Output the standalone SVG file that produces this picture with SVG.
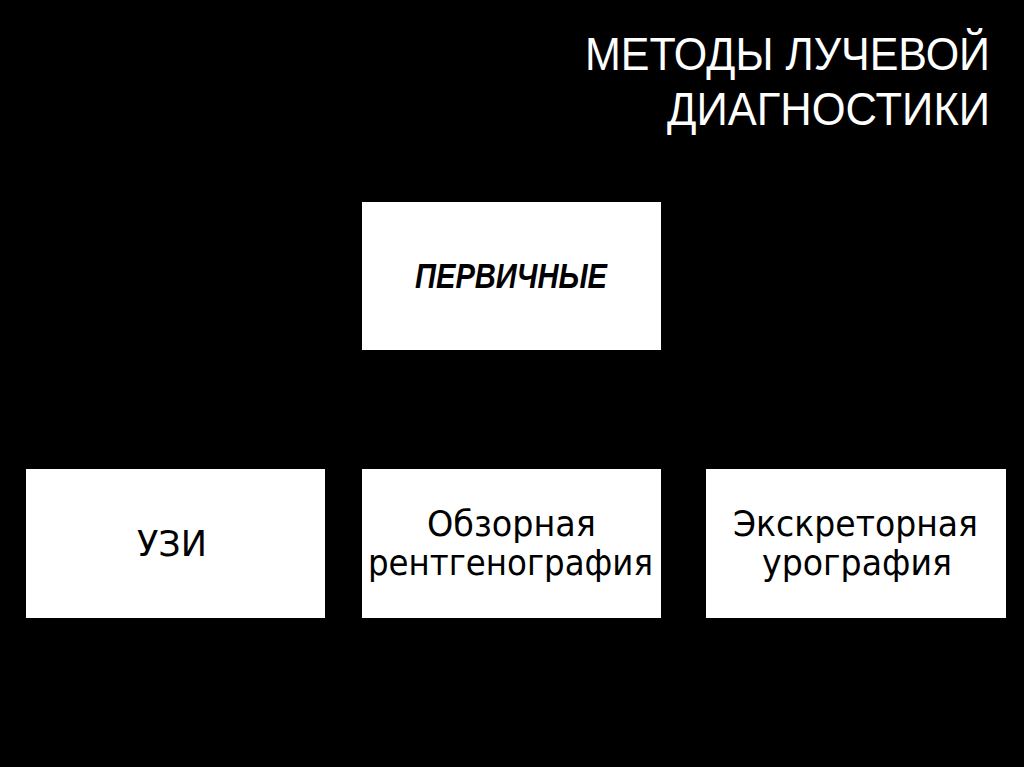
<svg xmlns="http://www.w3.org/2000/svg" width="1024" height="767" viewBox="0 0 1024 767">
<style>
.box{fill:#ffffff;stroke:none}
.title{font-family:"Liberation Sans","Open Sans",sans-serif;font-size:46px;fill:#ffffff}
.lbl{font-family:"DejaVu Sans","Liberation Sans",sans-serif;font-size:35px;fill:#000000;text-anchor:middle}
.bold{font-family:"Liberation Sans","Open Sans",sans-serif;font-size:35px;font-weight:bold;font-style:italic;fill:#000000;text-anchor:middle}
</style>
<rect x="0" y="0" width="1024" height="767" fill="#000000"/>
<g id="title">
<text class="title" x="585" y="70" textLength="405" lengthAdjust="spacingAndGlyphs">МЕТОДЫ ЛУЧЕВОЙ</text>
<text class="title" x="667" y="125" textLength="323" lengthAdjust="spacingAndGlyphs">ДИАГНОСТИКИ</text>
</g>
<g id="connectors"></g>
<g id="node-primary">
<rect class="box" x="362" y="202" width="299" height="148"/>
<text class="bold" x="511" y="288" textLength="192" lengthAdjust="spacingAndGlyphs">ПЕРВИЧНЫЕ</text>
</g>
<g id="node-uzi">
<rect class="box" x="26" y="469" width="299" height="149"/>
<text class="lbl" x="172" y="556" textLength="70" lengthAdjust="spacingAndGlyphs">УЗИ</text>
</g>
<g id="node-xray">
<rect class="box" x="362" y="469" width="299" height="149"/>
<text class="lbl" x="511.5" y="536" textLength="169" lengthAdjust="spacingAndGlyphs">Обзорная</text>
<text class="lbl" x="510.5" y="575" textLength="285" lengthAdjust="spacingAndGlyphs">рентгенография</text>
</g>
<g id="node-urography">
<rect class="box" x="706" y="469" width="300" height="149"/>
<text class="lbl" x="855.5" y="536" textLength="245" lengthAdjust="spacingAndGlyphs">Экскреторная</text>
<text class="lbl" x="857" y="575" textLength="190" lengthAdjust="spacingAndGlyphs">урография</text>
</g>
</svg>
